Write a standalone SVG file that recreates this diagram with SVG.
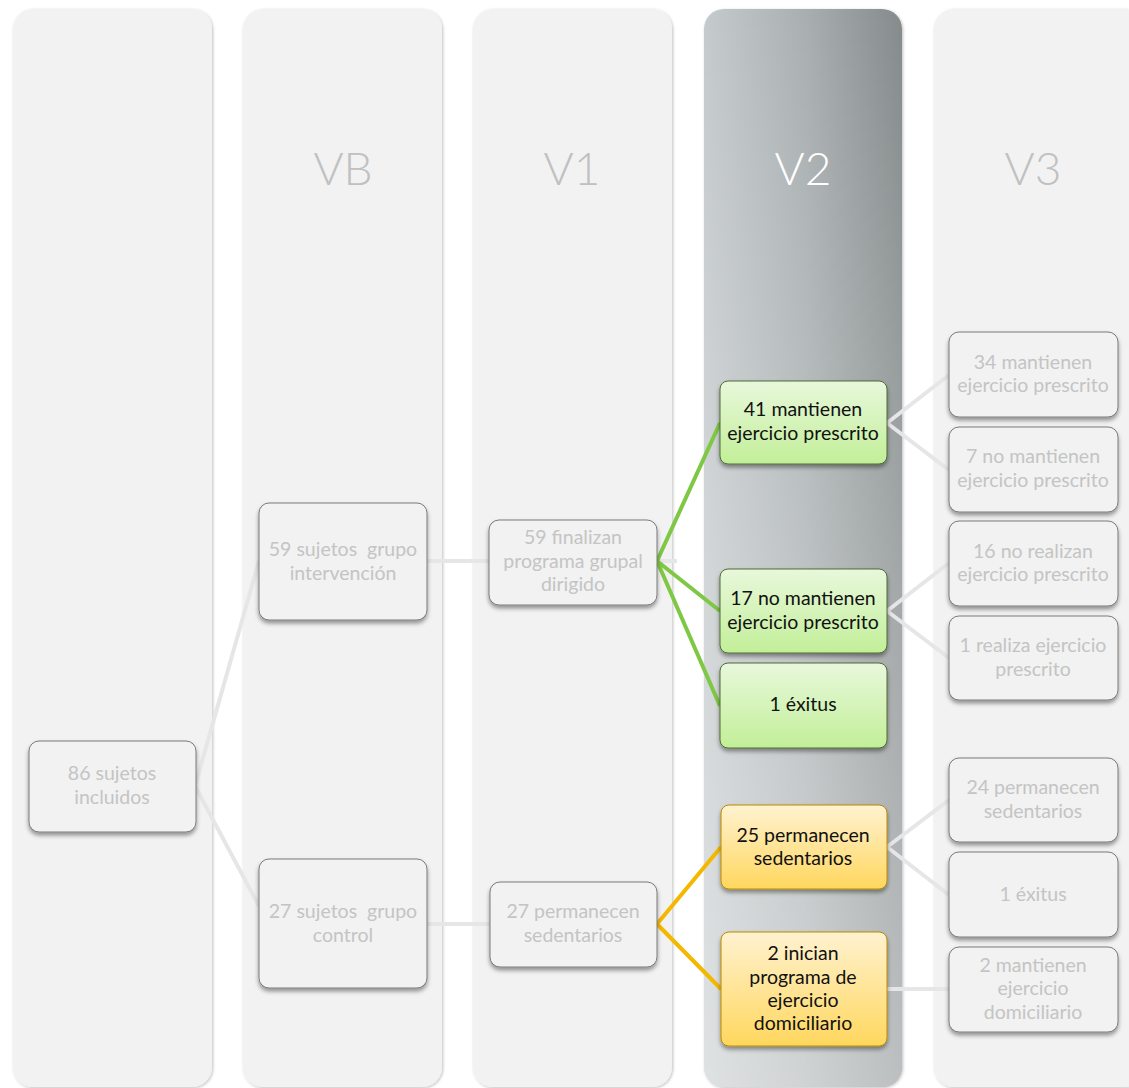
<svg xmlns="http://www.w3.org/2000/svg" width="1129" height="1088" viewBox="0 0 1129 1088">
<defs>
<linearGradient id="v2h" x1="0" y1="0" x2="1" y2="0">
<stop offset="0" stop-color="#c5cacc"/>
<stop offset="0.5" stop-color="#aab0b2"/>
<stop offset="1" stop-color="#858b8b"/>
</linearGradient>
<linearGradient id="v2v" x1="0" y1="0" x2="0" y2="1">
<stop offset="0" stop-color="#ffffff" stop-opacity="0"/>
<stop offset="1" stop-color="#ffffff" stop-opacity="0.45"/>
</linearGradient>
<linearGradient id="gGreen" x1="0" y1="0" x2="0" y2="1">
<stop offset="0" stop-color="#e8f8dc"/>
<stop offset="1" stop-color="#c2ef98"/>
</linearGradient>
<linearGradient id="gOrange" x1="0" y1="0" x2="0" y2="1">
<stop offset="0" stop-color="#fff2d0"/>
<stop offset="1" stop-color="#ffd75e"/>
</linearGradient>
<filter id="colShadow" x="-10%" y="-5%" width="120%" height="110%">
<feDropShadow dx="1" dy="1" stdDeviation="1.5" flood-color="#000" flood-opacity="0.25"/>
</filter>
<filter id="boxShadow" x="-10%" y="-10%" width="120%" height="130%">
<feDropShadow dx="0" dy="3" stdDeviation="2" flood-color="#000" flood-opacity="0.4"/>
</filter>
</defs>
<style>
.col{fill:#f2f2f2;filter:url(#colShadow)}
.hdr{font-family:Lato,"Open Sans",sans-serif;font-weight:300;font-size:46px;text-anchor:middle;fill:#c0c0c0}
.box{fill:#f2f2f2;stroke:#7a7a7a;stroke-width:1;filter:url(#boxShadow)}
.gbox{fill:url(#gGreen);stroke:#4f6b35;stroke-width:1;filter:url(#boxShadow)}
.obox{fill:url(#gOrange);stroke:#b88a00;stroke-width:1;filter:url(#boxShadow)}
.t{font-family:Lato,"Open Sans",sans-serif;font-size:19.5px;text-anchor:middle;fill:#c4c4c4;white-space:pre}
.td{font-family:Lato,"Open Sans",sans-serif;font-size:19.5px;text-anchor:middle;fill:#111111}
.cg{stroke:#e6e6e8;stroke-width:4;fill:none;stroke-linejoin:round}
.cgr{stroke:#7ec843;stroke-width:4;fill:none;stroke-linejoin:round}
.co{stroke:#f5b800;stroke-width:4;fill:none;stroke-linejoin:round}
</style>

<g id="columns">
<rect id="col0" class="col" x="13" y="9" width="199" height="1078" rx="20"/>
<g id="colVB"><rect class="col" x="243" y="9" width="199" height="1078" rx="20"/><text class="hdr" x="343" y="185">VB</text></g>
<g id="colV1"><rect class="col" x="473" y="9" width="199" height="1078" rx="20"/><text class="hdr" x="572" y="185">V1</text></g>
<g id="colV2"><rect x="704" y="9" width="198" height="1078" rx="20" fill="url(#v2h)" filter="url(#colShadow)"/><rect x="704" y="9" width="198" height="1078" rx="20" fill="url(#v2v)"/><text class="hdr" x="803" y="185" style="fill:#ffffff">V2</text></g>
<g id="colV3"><rect class="col" x="934" y="9" width="210" height="1078" rx="20"/><text class="hdr" x="1033" y="185">V3</text></g>
</g>

<g id="connectors">
<polyline class="cg" points="259,561 195,786 259,906"/>
<line class="cg" x1="427" y1="561" x2="677" y2="561"/>
<line class="cg" x1="427" y1="924" x2="490" y2="924"/>
<polyline class="cg" points="949,375 887,423 949,470"/>
<polyline class="cg" points="949,563 887,611 949,658"/>
<polyline class="cg" points="949,800 887,847 949,895"/>
<line class="cg" x1="887" y1="989" x2="949" y2="989"/>
<polyline class="cgr" points="720,423 657,561 720,611"/>
<polyline class="cgr" points="657,561 720,706"/>
<polyline class="co" points="721,847 657,924 721,989"/>
</g>

<g id="n86"><rect class="box" x="29" y="741" width="167" height="91" rx="10"/><text class="t" x="112" y="780">86 sujetos</text><text class="t" x="112" y="804">incluidos</text></g>
<g id="n59g"><rect class="box" x="259" y="503" width="168" height="117" rx="10"/><text class="t" x="343" y="556">59 sujetos  grupo</text><text class="t" x="343" y="580">intervención</text></g>
<g id="n27g"><rect class="box" x="259" y="859" width="168" height="129" rx="10"/><text class="t" x="343" y="918">27 sujetos  grupo</text><text class="t" x="343" y="942">control</text></g>
<g id="n59f"><rect class="box" x="489" y="520" width="168" height="85" rx="10"/><text class="t" x="573" y="544">59 finalizan</text><text class="t" x="573" y="568">programa grupal</text><text class="t" x="573" y="591">dirigido</text></g>
<g id="n27p"><rect class="box" x="490" y="882" width="167" height="85" rx="10"/><text class="t" x="573" y="918">27 permanecen</text><text class="t" x="573" y="942">sedentarios</text></g>

<g id="n41"><rect class="gbox" x="720" y="381" width="167" height="83" rx="8"/><text class="td" x="803" y="416">41 mantienen</text><text class="td" x="803" y="440">ejercicio prescrito</text></g>
<g id="n17"><rect class="gbox" x="720" y="569" width="167" height="84" rx="8"/><text class="td" x="803" y="605">17 no mantienen</text><text class="td" x="803" y="629">ejercicio prescrito</text></g>
<g id="n1e"><rect class="gbox" x="720" y="663" width="167" height="85" rx="8"/><text class="td" x="803" y="711">1 éxitus</text></g>
<g id="n25"><rect class="obox" x="721" y="805" width="166" height="84" rx="8"/><text class="td" x="803" y="842">25 permanecen</text><text class="td" x="803" y="865">sedentarios</text></g>
<g id="n2i"><rect class="obox" x="721" y="932" width="166" height="114" rx="8"/><text class="td" x="803" y="960">2 inician</text><text class="td" x="803" y="984">programa de</text><text class="td" x="803" y="1007">ejercicio</text><text class="td" x="803" y="1030">domiciliario</text></g>

<g id="n34"><rect class="box" x="949" y="332" width="169" height="85" rx="10"/><text class="t" x="1033" y="369">34 mantienen</text><text class="t" x="1033" y="392">ejercicio prescrito</text></g>
<g id="n7"><rect class="box" x="949" y="427" width="169" height="85" rx="10"/><text class="t" x="1033" y="463">7 no mantienen</text><text class="t" x="1033" y="487">ejercicio prescrito</text></g>
<g id="n16"><rect class="box" x="949" y="521" width="169" height="85" rx="10"/><text class="t" x="1033" y="558">16 no realizan</text><text class="t" x="1033" y="581">ejercicio prescrito</text></g>
<g id="n1r"><rect class="box" x="949" y="616" width="169" height="84" rx="10"/><text class="t" x="1033" y="652">1 realiza ejercicio</text><text class="t" x="1033" y="676">prescrito</text></g>
<g id="n24"><rect class="box" x="949" y="758" width="169" height="84" rx="10"/><text class="t" x="1033" y="794">24 permanecen</text><text class="t" x="1033" y="818">sedentarios</text></g>
<g id="n1x"><rect class="box" x="949" y="852" width="169" height="85" rx="10"/><text class="t" x="1033" y="901">1 éxitus</text></g>
<g id="n2m"><rect class="box" x="949" y="947" width="169" height="85" rx="10"/><text class="t" x="1033" y="972">2 mantienen</text><text class="t" x="1033" y="995">ejercicio</text><text class="t" x="1033" y="1019">domiciliario</text></g>
</svg>
